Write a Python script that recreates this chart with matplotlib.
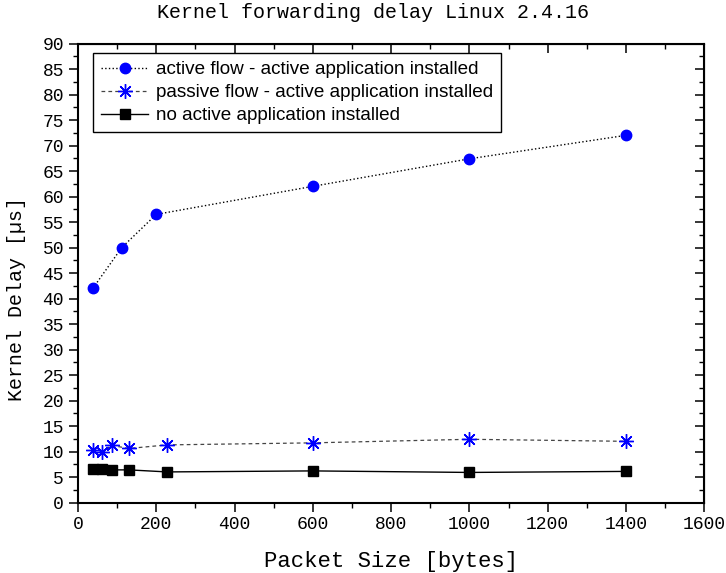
# kernel forwarding delay vs packet size

import numpy as np
import matplotlib.pyplot as plt
from matplotlib.ticker import MultipleLocator

# active flow - active application installed
x_active = [38, 112, 200, 600, 1000, 1400]
y_active = [42.0, 50.0, 56.5, 62.0, 67.4, 72.0]

# passive flow - active application installed
x_passive = [38, 62, 86, 130, 228, 600, 1000, 1400]
y_passive = [10.3, 10.0, 11.2, 10.6, 11.3, 11.7, 12.4, 12.0]

# no active application installed
x_none = [38, 62, 86, 130, 228, 600, 1000, 1400]
y_none = [6.6, 6.6, 6.4, 6.4, 6.0, 6.2, 5.9, 6.1]

mono = 'Liberation Mono'

fig = plt.figure(figsize=(7.26, 5.73), dpi=100)
ax = fig.add_axes([0.1074, 0.123, 0.8626, 0.801])

ax.plot(x_active, y_active, ':', color='black', lw=1.0,
        marker='o', ms=7.5, mfc='blue', mec='blue',
        label='active flow - active application installed')
ax.plot(x_passive, y_passive, '--', color='#444444', lw=0.9, dashes=(3, 2.5),
        marker=(8, 2, 0), ms=10.5, mec='blue', mew=1.0,
        label='passive flow - active application installed')
ax.plot(x_passive, y_passive, 'o', color='blue', ms=3)
ax.plot(x_none, y_none, '-', color='black', lw=1.0,
        marker='s', ms=7, mfc='black', mec='black',
        label='no active application installed')

ax.set_xlim(0, 1600)
ax.set_ylim(0, 90)
ax.xaxis.set_major_locator(MultipleLocator(200))
ax.xaxis.set_minor_locator(MultipleLocator(100))
ax.yaxis.set_major_locator(MultipleLocator(5))
ax.yaxis.set_minor_locator(MultipleLocator(2.5))

for s in ax.spines.values():
    s.set_linewidth(1.5)

ax.tick_params(which='major', direction='out', length=6.5, width=1.1, labelsize=13)
ax.tick_params(which='minor', direction='out', length=3.5, width=1.0)
for lab in ax.get_xticklabels() + ax.get_yticklabels():
    lab.set_family(mono)

# mirrored ticks pointing inward on top and right
top = ax.secondary_xaxis('top')
top.xaxis.set_major_locator(MultipleLocator(200))
top.xaxis.set_minor_locator(MultipleLocator(100))
top.tick_params(which='major', direction='in', length=6.5, width=1.1, labeltop=False)
top.tick_params(which='minor', direction='in', length=3.5, width=1.0)
right = ax.secondary_yaxis('right')
right.yaxis.set_major_locator(MultipleLocator(5))
right.yaxis.set_minor_locator(MultipleLocator(2.5))
right.tick_params(which='major', direction='in', length=6.5, width=1.1, labelright=False)
right.tick_params(which='minor', direction='in', length=3.5, width=1.0)

fig.text(373 / 726, 1 - 13 / 573, 'Kernel forwarding delay Linux 2.4.16',
         family=mono, fontsize=14.4, ha='center', va='center')
ax.set_xlabel('Packet Size [bytes]', family=mono, fontsize=16, labelpad=13)
fig.text(17 / 726, 1 - 299 / 573, 'Kernel Delay [µs]', family=mono, fontsize=14.4,
         rotation=90, ha='center', va='center')

leg = ax.legend(loc='upper left', bbox_to_anchor=(0.024, 0.979), borderaxespad=0,
                prop={'family': 'Liberation Sans', 'size': 13.6},
                handlelength=2.5, handletextpad=0.4, labelspacing=0.3,
                fancybox=False, framealpha=1, borderpad=0.42)
leg.get_frame().set_edgecolor('black')
leg.get_frame().set_linewidth(1.0)

plt.savefig('out.png', dpi=100)
